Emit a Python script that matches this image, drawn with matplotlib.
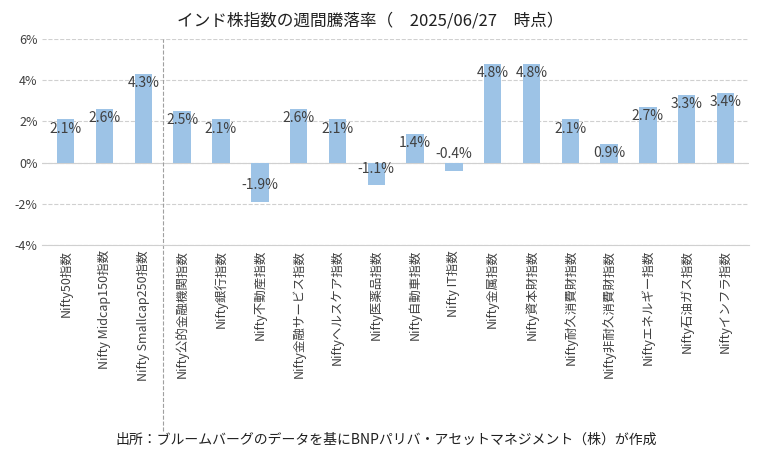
import matplotlib
matplotlib.use('Agg')
import matplotlib.pyplot as plt

plt.rcParams['font.family'] = ['Noto Sans CJK JP', 'DejaVu Sans']

categories = ['Nifty50指数', 'Nifty Midcap150指数', 'Nifty Smallcap250指数',
              'Nifty公的金融機関指数', 'Nifty銀行指数', 'Nifty不動産指数',
              'Nifty金融サービス指数', 'Niftyヘルスケア指数', 'Nifty医薬品指数',
              'Nifty自動車指数', 'Nifty IT指数', 'Nifty金属指数', 'Nifty資本財指数',
              'Nifty耐久消費財指数', 'Nifty非耐久消費財指数', 'Niftyエネルギー指数',
              'Nifty石油ガス指数', 'Niftyインフラ指数']
values = [2.1, 2.6, 4.3, 2.5, 2.1, -1.9, 2.6, 2.1, -1.1, 1.4, -0.4, 4.8, 4.8,
          2.1, 0.9, 2.7, 3.3, 3.4]
yticks = [-4, -2, 0, 2, 4, 6]

fig = plt.figure(figsize=(7.72, 4.58), dpi=100)
ax = fig.add_axes([0.055, 0.465, 0.915, 0.45])
for s in ax.spines.values():
    s.set_visible(False)
ax.spines['bottom'].set_visible(True)
ax.spines['bottom'].set_position(('data', -4))
ax.spines['bottom'].set_color('#D0D0D0')

x = range(len(categories))
ax.bar(x, values, width=0.45, color='#9DC3E6', zorder=2)
for i, v in enumerate(values):
    y = v - 0.45 if v > 0 else v + 0.8
    ax.text(i, y, '%.1f%%' % v, ha='center', va='center', fontsize=10,
            color='#404040', zorder=3)
ax.set_ylim(-4, 6)
ax.set_xlim(-0.6, len(categories) - 0.4)
ax.set_yticks(yticks)
ax.set_yticklabels(['%d%%' % t for t in yticks], fontsize=9, color='#404040')
ax.yaxis.grid(True, linestyle='--', color='#D0D0D0', zorder=0)
ax.axhline(0, color='#D0D0D0', lw=0.8, zorder=1)
ax.axvline(2.5, color='#A0A0A0', linestyle='--', lw=0.8, ymin=-0.9, ymax=1.0,
           clip_on=False)
ax.set_xticks(list(x))
ax.set_xticklabels(categories, rotation=90, fontsize=9, color='#404040',
                   ha='center', va='top')
ax.tick_params(length=0)
fig.text(0.48, 0.955, 'インド株指数の週間騰落率（　2025/06/27　時点）', ha='center',
         va='center', fontsize=12, color='#202020')
fig.text(0.5, 0.04, '出所：ブルームバーグのデータを基にBNPパリバ・アセットマネジメント（株）が作成',
         ha='center', va='center', fontsize=10, color='#202020')
fig.savefig('out.png', dpi=100)
